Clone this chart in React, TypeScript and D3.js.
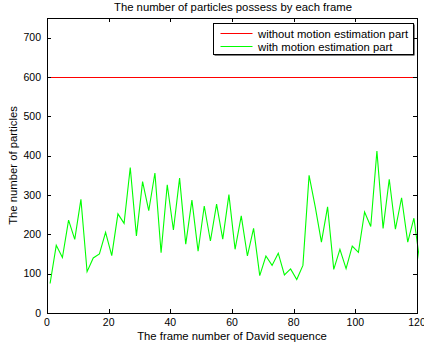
import React, { useRef, useEffect } from "react";
import * as d3 from "d3";

// frames sampled every 2 frames
const frames: number[] = d3.range(1, 122, 2);
const withMotion: number[] = [
  75, 172, 141, 236, 187, 289, 105, 140, 150, 205, 146, 252, 228, 370, 196, 334,
  260, 356, 153, 326, 211, 343, 175, 287, 157, 272, 183, 277, 188, 301, 162, 247,
  145, 215, 95, 145, 121, 152, 97, 112, 85, 121, 350, 270, 180, 270, 111, 162,
  113, 170, 154, 257, 220, 412, 215, 340, 213, 293, 180, 241, 126,
];
const withoutMotion = 600;
const xTicks = [0, 20, 40, 60, 80, 100, 120];
const yTicks = [0, 100, 200, 300, 400, 500, 600, 700];
const legendLabels = ["without motion estimation part", "with motion estimation part"];
const legendColors = ["#ff0000", "#00ff00"];

const FONT = "'Liberation Sans', Arial, Helvetica, sans-serif";
const LABEL_SIZE = "11.3px";

const Chart: React.FC = () => {
  const ref = useRef<SVGSVGElement | null>(null);

  useEffect(() => {
    if (!ref.current) return;
    const svg = d3.select(ref.current);
    svg.selectAll("*").remove();

    const left = 47, right = 417, top = 18, bottom = 313;
    const x = d3.scaleLinear().domain([0, 120]).range([left, right]);
    const y = d3.scaleLinear().domain([0, 750]).range([bottom, top]);

    svg.append("rect").attr("width", 424).attr("height", 347).attr("fill", "#fff");

    svg.append("defs").append("clipPath").attr("id", "plotclip")
      .append("rect").attr("x", left).attr("y", top)
      .attr("width", right - left + 2).attr("height", bottom - top);

    // title
    svg.append("text")
      .attr("x", 233).attr("y", 11)
      .attr("text-anchor", "middle")
      .style("font-family", FONT).style("font-size", LABEL_SIZE)
      .text("The number of particles possess by each frame");

    const plot = svg.append("g").attr("clip-path", "url(#plotclip)");

    // red reference line
    const yr = Math.round(y(withoutMotion)) + 0.5;
    plot.append("line")
      .attr("x1", left).attr("x2", right)
      .attr("y1", yr).attr("y2", yr)
      .attr("stroke", legendColors[0]).attr("stroke-width", 1);

    const line = d3.line<number>()
      .x((_, i) => x(frames[i]))
      .y((d) => y(d));

    plot.append("path")
      .datum(withMotion)
      .attr("fill", "none")
      .attr("stroke", legendColors[1])
      .attr("stroke-width", 1.1)
      .attr("d", line);

    // box
    svg.append("rect")
      .attr("x", left + 0.5).attr("y", top + 0.5)
      .attr("width", right - left).attr("height", bottom - top)
      .attr("fill", "none").attr("stroke", "#000").attr("stroke-width", 1);

    const tl = 4;
    xTicks.forEach((t) => {
      const xx = Math.round(x(t)) + 0.5;
      svg.append("line").attr("x1", xx).attr("x2", xx).attr("y1", bottom).attr("y2", bottom - tl).attr("stroke", "#000");
      svg.append("line").attr("x1", xx).attr("x2", xx).attr("y1", top).attr("y2", top + tl).attr("stroke", "#000");
      svg.append("text")
        .attr("x", x(t)).attr("y", bottom + 13)
        .attr("text-anchor", "middle")
        .style("font-family", FONT).style("font-size", "10.5px")
        .text(t);
    });
    yTicks.forEach((t) => {
      const yy = Math.round(y(t)) + 0.5;
      svg.append("line").attr("x1", left).attr("x2", left + tl).attr("y1", yy).attr("y2", yy).attr("stroke", "#000");
      svg.append("line").attr("x1", right).attr("x2", right - tl).attr("y1", yy).attr("y2", yy).attr("stroke", "#000");
      svg.append("text")
        .attr("x", left - 6).attr("y", y(t) + 3.7)
        .attr("text-anchor", "end")
        .style("font-family", FONT).style("font-size", "10.5px")
        .text(t);
    });

    // axis labels
    svg.append("text")
      .attr("x", 232).attr("y", 340)
      .attr("text-anchor", "middle")
      .style("font-family", FONT).style("font-size", LABEL_SIZE)
      .text("The frame number of David sequence");
    svg.append("text")
      .attr("transform", `translate(16.5,${(top + bottom) / 2}) rotate(-90)`)
      .attr("text-anchor", "middle")
      .style("font-family", FONT).style("font-size", LABEL_SIZE)
      .text("The number of particles");

    // legend
    const lx = 213.5, ly = 23.5, lw = 200, lh = 31;
    svg.append("rect").attr("x", lx + 1).attr("y", ly + 1).attr("width", lw).attr("height", lh)
      .attr("fill", "#000");
    svg.append("rect").attr("x", lx).attr("y", ly).attr("width", lw).attr("height", lh)
      .attr("fill", "#fff").attr("stroke", "#000").attr("stroke-width", 1);
    legendLabels.forEach((lab, i) => {
      const yy = Math.round(ly + 9.5 + i * 12.5) + 0.5;
      svg.append("line").attr("x1", lx + 7).attr("x2", lx + 39).attr("y1", yy).attr("y2", yy)
        .attr("stroke", legendColors[i]).attr("stroke-width", 1);
      svg.append("text").attr("x", lx + 44.5).attr("y", yy + 4)
        .style("font-family", FONT).style("font-size", LABEL_SIZE)
        .text(lab);
    });
  }, []);

  return (
    <svg
      ref={ref}
      width={424}
      height={347}
      style={{ position: "absolute", left: 0, top: 0, display: "block" }}
    />
  );
};

export default function App() {
  return <Chart />;
}
